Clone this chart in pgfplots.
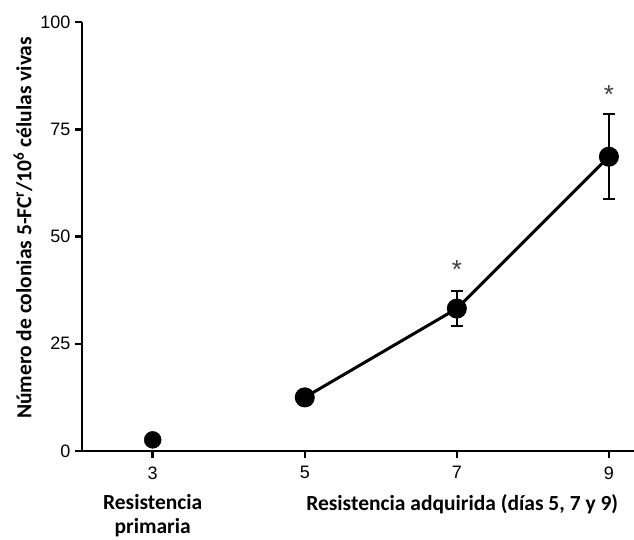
\documentclass[border=0pt]{standalone}
\usepackage{fontspec}
\setmainfont{Carlito}
\newfontfamily\arialf{Liberation Sans}
\usepackage{pgfplots}
\pgfplotsset{compat=1.18}
\begin{document}
\begin{tikzpicture}[x=1pt,y=1pt]
\useasboundingbox (-82,-88) rectangle (552,451);
\begin{axis}[
  at={(0,0)}, anchor=south west,
  scale only axis, width=552pt, height=429pt,
  xmin=2.07, xmax=9.33, ymin=0, ymax=100,
  axis lines=left, axis line style={-, line width=2.5pt},
  xtick={3,5,7,9}, ytick={0,25,50,75,100},
  tick align=outside, major tick length=7pt,
  tick style={line width=2.5pt, black},
  ticklabel style={font=\arialf\fontsize{18}{20}\selectfont},
  /pgf/number format/assume math mode=true,
  xticklabel style={yshift=-5pt},
  yticklabel style={xshift=-1pt},
  ylabel={Número de colonias 5-FC\textsuperscript{r}/10\textsuperscript{6} células vivas},
  ylabel style={font=\bfseries\fontsize{21.5}{24}\selectfont, at={(axis description cs:-0.107,0.52)}, anchor=center},
  clip=false,
]
\addplot[only marks, mark=*, mark size=8.5pt, black] coordinates {(3,2.6)};
\addplot[black, line width=3pt, mark=*, mark size=8.5pt, mark options={solid, fill=black},
  error bars/.cd, y dir=both, y explicit,
  error bar style={line width=1.8pt, black},
  error mark options={rotate=90, mark size=6pt, line width=1.8pt, black}]
  coordinates {(5,12.5) +- (0,1.8) (7,33.2) +- (0,4.1) (9,68.6) +- (0,9.9)};
\node[font=\arialf\fontsize{26}{26}\selectfont, text=black!75] at (axis cs:7,42.3) {*};
\node[font=\arialf\fontsize{26}{26}\selectfont, text=black!75] at (axis cs:9,83.2) {*};
\node[font=\bfseries\fontsize{21.5}{24}\selectfont, align=center] at (axis cs:3,0) [yshift=-65pt] {Resistencia\\primaria};
\node[font=\bfseries\fontsize{21.5}{24}\selectfont] at (axis cs:7.07,0) [yshift=-53pt] {Resistencia adquirida (días 5, 7 y 9)};
\end{axis}
\end{tikzpicture}
\end{document}
